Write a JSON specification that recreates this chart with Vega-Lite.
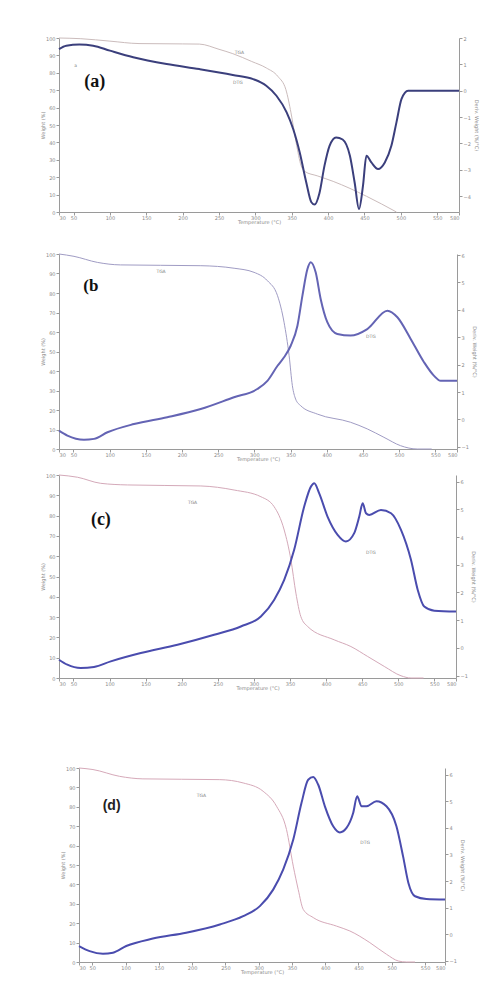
{
  "$schema": "https://vega.github.io/schema/vega-lite/v6.json",
  "background": "white",
  "padding": {"left": 40, "top": 36, "right": 5, "bottom": 5},
  "config": {
    "view": {"stroke": null},
    "axis": {"labelFontSize": 5, "labelColor": "#8a8a8a", "titleFontSize": 5, "titleColor": "#8a8a8a", "titleFontWeight": "normal", "domainColor": "#9a9a9a", "tickColor": "#9a9a9a", "tickSize": 3, "grid": false, "labelFont": "DejaVu Sans", "titleFont": "DejaVu Sans", "labelOverlap": false},
    "axisX": {"labelPadding": 0, "minExtent": 7, "maxExtent": 7, "titlePadding": 0, "labelOverlap": false},
    "axisLeft": {"labelPadding": 1, "minExtent": 12, "maxExtent": 12, "titlePadding": 2},
    "axisRight": {"labelPadding": 1, "minExtent": 12, "maxExtent": 12, "titlePadding": 2}
  },
  "datasets": {
    "a_tga": [{"T":30,"W":100},{"T":60,"W":99.6},{"T":100,"W":98.2},{"T":140,"W":96.8},{"T":200,"W":96.6},{"T":223,"W":96.5},{"T":250,"W":93.5},{"T":269,"W":91.0},{"T":295,"W":86.5},{"T":315,"W":82.8},{"T":331,"W":77.9},{"T":342,"W":70.3},{"T":349,"W":57},{"T":356,"W":40},{"T":363,"W":26.5},{"T":368,"W":23.3},{"T":385,"W":20.8},{"T":407,"W":17.6},{"T":453,"W":9.0},{"T":494,"W":0}],
    "a_dtg": [{"T":30,"D":1.58},{"T":40,"D":1.71},{"T":58,"D":1.75},{"T":77,"D":1.71},{"T":100,"D":1.52},{"T":132,"D":1.27},{"T":178,"D":1.01},{"T":223,"D":0.82},{"T":269,"D":0.60},{"T":297,"D":0.44},{"T":315,"D":0.19},{"T":329,"D":-0.19},{"T":343,"D":-0.82},{"T":352,"D":-1.45},{"T":361,"D":-2.34},{"T":370,"D":-3.48},{"T":377,"D":-4.23},{"T":381.5,"D":-4.32},{"T":388,"D":-3.9},{"T":395,"D":-2.85},{"T":402,"D":-2.09},{"T":411,"D":-1.77},{"T":420,"D":-1.85},{"T":430,"D":-2.47},{"T":436.5,"D":-3.48},{"T":442.5,"D":-4.49},{"T":448,"D":-3.6},{"T":452.7,"D":-2.47},{"T":459.5,"D":-2.72},{"T":468.7,"D":-2.97},{"T":478,"D":-2.72},{"T":487,"D":-2.09},{"T":494,"D":-1.2},{"T":501,"D":-0.31},{"T":510,"D":0},{"T":580,"D":0}],
    "b_tga": [{"T":30,"W":100},{"T":50.7,"W":98.8},{"T":83,"W":95.7},{"T":115,"W":94.4},{"T":226,"W":94.0},{"T":272,"W":92.7},{"T":299.5,"W":90.6},{"T":318,"W":86.3},{"T":332,"W":78.6},{"T":341,"W":65},{"T":348,"W":47.9},{"T":352.5,"W":32.5},{"T":357,"W":25.6},{"T":364,"W":22.2},{"T":387,"W":17.9},{"T":433,"W":13.7},{"T":456,"W":10.3},{"T":479,"W":6.0},{"T":502,"W":1.7},{"T":525,"W":0},{"T":545,"W":0}],
    "b_dtg": [{"T":30,"D":-0.41},{"T":41.6,"D":-0.59},{"T":64.5,"D":-0.74},{"T":78.4,"D":-0.71},{"T":97,"D":-0.47},{"T":133.6,"D":-0.17},{"T":179.6,"D":0.08},{"T":225.8,"D":0.38},{"T":271.8,"D":0.81},{"T":304,"D":1.11},{"T":318,"D":1.41},{"T":332,"D":1.96},{"T":341,"D":2.27},{"T":350.2,"D":2.69},{"T":359.5,"D":3.42},{"T":366.4,"D":4.52},{"T":373.3,"D":5.49},{"T":377.8,"D":5.74},{"T":384.7,"D":5.37},{"T":391.6,"D":4.40},{"T":400.8,"D":3.55},{"T":414.6,"D":3.12},{"T":433,"D":3.06},{"T":456,"D":3.30},{"T":483.8,"D":3.97},{"T":497.6,"D":3.73},{"T":516,"D":2.94},{"T":534.4,"D":2.09},{"T":548,"D":1.60},{"T":557.4,"D":1.41},{"T":580,"D":1.41}],
    "c_tga": [{"T":30,"W":100},{"T":55.5,"W":98.9},{"T":87.8,"W":95.9},{"T":124.8,"W":95.1},{"T":226.5,"W":94.6},{"T":272.6,"W":92.6},{"T":309.7,"W":89.3},{"T":328,"W":84.4},{"T":342,"W":72.9},{"T":351.3,"W":58.2},{"T":358.2,"W":41.8},{"T":365,"W":30.3},{"T":374.4,"W":25.4},{"T":411.3,"W":18.8},{"T":434.4,"W":15.5},{"T":457.6,"W":10.6},{"T":480.6,"W":5.7},{"T":503.8,"W":1.1},{"T":517.6,"W":0},{"T":535,"W":0}],
    "c_dtg": [{"T":30,"D":-0.43},{"T":41.6,"D":-0.61},{"T":60,"D":-0.73},{"T":78.5,"D":-0.69},{"T":101.7,"D":-0.49},{"T":143.3,"D":-0.19},{"T":194.2,"D":0.11},{"T":244.9,"D":0.47},{"T":281.9,"D":0.77},{"T":309.7,"D":1.13},{"T":328,"D":1.73},{"T":342,"D":2.45},{"T":355.8,"D":3.54},{"T":369.7,"D":5.10},{"T":379,"D":5.82},{"T":383.6,"D":5.94},{"T":390.5,"D":5.58},{"T":402,"D":4.74},{"T":416,"D":4.08},{"T":427.5,"D":3.84},{"T":439,"D":4.14},{"T":446,"D":4.74},{"T":450.7,"D":5.22},{"T":455.3,"D":4.86},{"T":459.8,"D":4.80},{"T":476,"D":4.98},{"T":490,"D":4.86},{"T":503.8,"D":4.26},{"T":517.6,"D":3.18},{"T":527,"D":2.09},{"T":536,"D":1.49},{"T":550,"D":1.34},{"T":580,"D":1.31}],
    "d_tga": [{"T":30,"W":100},{"T":51,"W":99.2},{"T":91,"W":95.7},{"T":126,"W":94.4},{"T":241.6,"W":94.0},{"T":276.7,"W":92.3},{"T":306.7,"W":88.0},{"T":326.8,"W":80.3},{"T":341.8,"W":68.3},{"T":352,"W":49.4},{"T":359.4,"W":37.4},{"T":367,"W":27.1},{"T":382,"W":22.9},{"T":417,"W":18.5},{"T":437,"W":16.0},{"T":467,"W":10.0},{"T":492,"W":4.0},{"T":510,"W":0.5},{"T":522,"W":0},{"T":535,"W":0}],
    "d_dtg": [{"T":30,"D":-0.44},{"T":46,"D":-0.63},{"T":66,"D":-0.73},{"T":81,"D":-0.69},{"T":101,"D":-0.44},{"T":141,"D":-0.16},{"T":191,"D":0.06},{"T":241.6,"D":0.37},{"T":276.7,"D":0.68},{"T":301.8,"D":1.06},{"T":321.8,"D":1.68},{"T":336.8,"D":2.43},{"T":352,"D":3.56},{"T":364.4,"D":4.94},{"T":374.4,"D":5.81},{"T":382,"D":5.91},{"T":389.5,"D":5.62},{"T":399.5,"D":4.81},{"T":412,"D":4.06},{"T":422,"D":3.83},{"T":432,"D":4.00},{"T":442,"D":4.56},{"T":448,"D":5.19},{"T":454.6,"D":4.81},{"T":462,"D":4.81},{"T":477,"D":5.00},{"T":492,"D":4.81},{"T":507,"D":4.06},{"T":517,"D":2.93},{"T":525,"D":1.93},{"T":535,"D":1.43},{"T":552,"D":1.33},{"T":580,"D":1.31}],
    "labels": [
      {"p":"a","k":"big","t":"(a)","T":79,"W":75},
      {"p":"a","k":"small","t":"a","T":53,"W":84},
      {"p":"a","k":"small","t":"TGA","T":278,"W":91.6},
      {"p":"a","k":"small","t":"DTG","T":276,"W":74.3},
      {"p":"b","k":"big","t":"(b","T":74,"W":83.7},
      {"p":"b","k":"small","t":"TGA","T":171,"W":90.6},
      {"p":"b","k":"small","t":"DTG","T":461,"W":57.3},
      {"p":"c","k":"big","t":"(c)","T":88,"W":77.9},
      {"p":"c","k":"small","t":"TGA","T":215,"W":86.1},
      {"p":"c","k":"small","t":"DTG","T":462,"W":61.5},
      {"p":"d","k":"big","t":"(d)","T":79,"W":80.3},
      {"p":"d","k":"small","t":"TGA","T":214,"W":85.4},
      {"p":"d","k":"small","t":"DTG","T":460,"W":61.1}
    ]
  },
  "spacing": 28,
  "vconcat": [
    {
      "width": 400, "height": 174,
      "encoding": {"x": {"field": "T", "type": "quantitative", "scale": {"domain": [30, 580], "nice": false, "zero": false}, "axis": {"values": [30,50,100,150,200,250,300,350,400,450,500,550,580], "labelOverlap": false, "title": "Temperature (°C)"}}},
      "layer": [
        {"data": {"name": "a_tga"}, "mark": {"type": "line", "color": "#cbbcbc", "strokeWidth": 1, "interpolate": "monotone"},
         "encoding": {"y": {"field": "W", "type": "quantitative", "scale": {"domain": [0, 100], "nice": false, "zero": false}, "axis": {"orient": "left", "values": [0,10,20,30,40,50,60,70,80,90,100], "title": "Weight (%)"}}}},
        {"data": {"name": "a_dtg"}, "mark": {"type": "line", "color": "#3b3f7c", "strokeWidth": 2, "interpolate": "monotone"},
         "encoding": {"y": {"field": "D", "type": "quantitative", "scale": {"domain": [-4.6, 2.0], "nice": false, "zero": false}, "axis": {"orient": "right", "values": [-4,-3,-2,-1,0,1,2], "title": "Deriv. Weight (%/°C)"}}}},
        {"data": {"name": "labels"}, "transform": [{"filter": "datum.p == 'a' && datum.k == 'big'"}], "mark": {"type": "text", "font": "Liberation Serif, Times New Roman, DejaVu Serif, serif", "fontWeight": "bold", "fontSize": 18, "color": "#111"},
         "encoding": {"y": {"field": "W", "type": "quantitative", "scale": {"domain": [0, 100], "nice": false}, "axis": null}, "text": {"field": "t"}}},
        {"data": {"name": "labels"}, "transform": [{"filter": "datum.p == 'a' && datum.k == 'small'"}], "mark": {"type": "text", "font": "DejaVu Sans", "fontSize": 4.5, "color": "#888"},
         "encoding": {"y": {"field": "W", "type": "quantitative", "scale": {"domain": [0, 100], "nice": false}, "axis": null}, "text": {"field": "t"}}}
      ],
      "resolve": {"scale": {"y": "independent"}}
    },
    {
      "spacing": 12,
      "vconcat": [
        {
          "width": 398, "height": 195,
          "encoding": {"x": {"field": "T", "type": "quantitative", "scale": {"domain": [30, 580], "nice": false, "zero": false}, "axis": {"values": [30,50,100,150,200,250,300,350,400,450,500,550,580], "labelOverlap": false, "title": "Temperature (°C)"}}},
          "layer": [
            {"data": {"name": "b_tga"}, "mark": {"type": "line", "color": "#a09cc4", "strokeWidth": 1, "interpolate": "monotone"},
             "encoding": {"y": {"field": "W", "type": "quantitative", "scale": {"domain": [0, 100], "nice": false, "zero": false}, "axis": {"orient": "left", "values": [0,10,20,30,40,50,60,70,80,90,100], "title": "Weight (%)"}}}},
            {"data": {"name": "b_dtg"}, "mark": {"type": "line", "color": "#6464b4", "strokeWidth": 2, "interpolate": "monotone"},
             "encoding": {"y": {"field": "D", "type": "quantitative", "scale": {"domain": [-1.08, 6.04], "nice": false, "zero": false}, "axis": {"orient": "right", "values": [-1,0,1,2,3,4,5,6], "title": "Deriv. Weight (%/°C)"}}}},
            {"data": {"name": "labels"}, "transform": [{"filter": "datum.p == 'b' && datum.k == 'big'"}], "mark": {"type": "text", "font": "Liberation Serif, Times New Roman, DejaVu Serif, serif", "fontWeight": "bold", "fontSize": 17, "color": "#111"},
             "encoding": {"y": {"field": "W", "type": "quantitative", "scale": {"domain": [0, 100], "nice": false}, "axis": null}, "text": {"field": "t"}}},
            {"data": {"name": "labels"}, "transform": [{"filter": "datum.p == 'b' && datum.k == 'small'"}], "mark": {"type": "text", "font": "DejaVu Sans", "fontSize": 4.5, "color": "#888"},
             "encoding": {"y": {"field": "W", "type": "quantitative", "scale": {"domain": [0, 100], "nice": false}, "axis": null}, "text": {"field": "t"}}}
          ],
          "resolve": {"scale": {"y": "independent"}}
        },
        {
          "spacing": 76,
          "vconcat": [
            {
              "width": 397, "height": 203,
              "encoding": {"x": {"field": "T", "type": "quantitative", "scale": {"domain": [30, 580], "nice": false, "zero": false}, "axis": {"values": [30,50,100,150,200,250,300,350,400,450,500,550,580], "labelOverlap": false, "title": "Temperature (°C)"}}},
              "layer": [
                {"data": {"name": "c_tga"}, "mark": {"type": "line", "color": "#d4a9b9", "strokeWidth": 1, "interpolate": "monotone"},
                 "encoding": {"y": {"field": "W", "type": "quantitative", "scale": {"domain": [0, 100], "nice": false, "zero": false}, "axis": {"orient": "left", "values": [0,10,20,30,40,50,60,70,80,90,100], "title": "Weight (%)"}}}},
                {"data": {"name": "c_dtg"}, "mark": {"type": "line", "color": "#4a4cae", "strokeWidth": 2, "interpolate": "monotone"},
                 "encoding": {"y": {"field": "D", "type": "quantitative", "scale": {"domain": [-1.09, 6.24], "nice": false, "zero": false}, "axis": {"orient": "right", "values": [-1,0,1,2,3,4,5,6], "title": "Deriv. Weight (%/°C)"}}}},
                {"data": {"name": "labels"}, "transform": [{"filter": "datum.p == 'c' && datum.k == 'big'"}], "mark": {"type": "text", "font": "Liberation Serif, Times New Roman, DejaVu Serif, serif", "fontWeight": "bold", "fontSize": 18, "color": "#111"},
                 "encoding": {"y": {"field": "W", "type": "quantitative", "scale": {"domain": [0, 100], "nice": false}, "axis": null}, "text": {"field": "t"}}},
                {"data": {"name": "labels"}, "transform": [{"filter": "datum.p == 'c' && datum.k == 'small'"}], "mark": {"type": "text", "font": "DejaVu Sans", "fontSize": 4.5, "color": "#888"},
                 "encoding": {"y": {"field": "W", "type": "quantitative", "scale": {"domain": [0, 100], "nice": false}, "axis": null}, "text": {"field": "t"}}}
              ],
              "resolve": {"scale": {"y": "independent"}}
            },
            {
              "spacing": 0,
              "hconcat": [
                {"width": 1, "height": 1, "data": {"values": []}, "mark": "point"},
                {
                  "width": 366, "height": 194,
                  "encoding": {"x": {"field": "T", "type": "quantitative", "scale": {"domain": [30, 580], "nice": false, "zero": false}, "axis": {"values": [30,50,100,150,200,250,300,350,400,450,500,550,580], "labelOverlap": false, "title": "Temperature (°C)"}}},
                  "layer": [
                    {"data": {"name": "d_tga"}, "mark": {"type": "line", "color": "#d6a9b9", "strokeWidth": 1, "interpolate": "monotone"},
                     "encoding": {"y": {"field": "W", "type": "quantitative", "scale": {"domain": [0, 100], "nice": false, "zero": false}, "axis": {"orient": "left", "values": [0,10,20,30,40,50,60,70,80,90,100], "title": "Weight (%)"}}}},
                    {"data": {"name": "d_dtg"}, "mark": {"type": "line", "color": "#4a4cae", "strokeWidth": 2, "interpolate": "monotone"},
                     "encoding": {"y": {"field": "D", "type": "quantitative", "scale": {"domain": [-1.04, 6.25], "nice": false, "zero": false}, "axis": {"orient": "right", "values": [-1,0,1,2,3,4,5,6], "title": "Deriv. Weight (%/°C)"}}}},
                    {"data": {"name": "labels"}, "transform": [{"filter": "datum.p == 'd' && datum.k == 'big'"}], "mark": {"type": "text", "font": "Liberation Sans", "fontWeight": "bold", "fontSize": 14, "color": "#222"},
                     "encoding": {"y": {"field": "W", "type": "quantitative", "scale": {"domain": [0, 100], "nice": false}, "axis": null}, "text": {"field": "t"}}},
                    {"data": {"name": "labels"}, "transform": [{"filter": "datum.p == 'd' && datum.k == 'small'"}], "mark": {"type": "text", "font": "DejaVu Sans", "fontSize": 4.5, "color": "#888"},
                     "encoding": {"y": {"field": "W", "type": "quantitative", "scale": {"domain": [0, 100], "nice": false}, "axis": null}, "text": {"field": "t"}}}
                  ],
                  "resolve": {"scale": {"y": "independent"}}
                }
              ]
            }
          ]
        }
      ]
    }
  ]
}
